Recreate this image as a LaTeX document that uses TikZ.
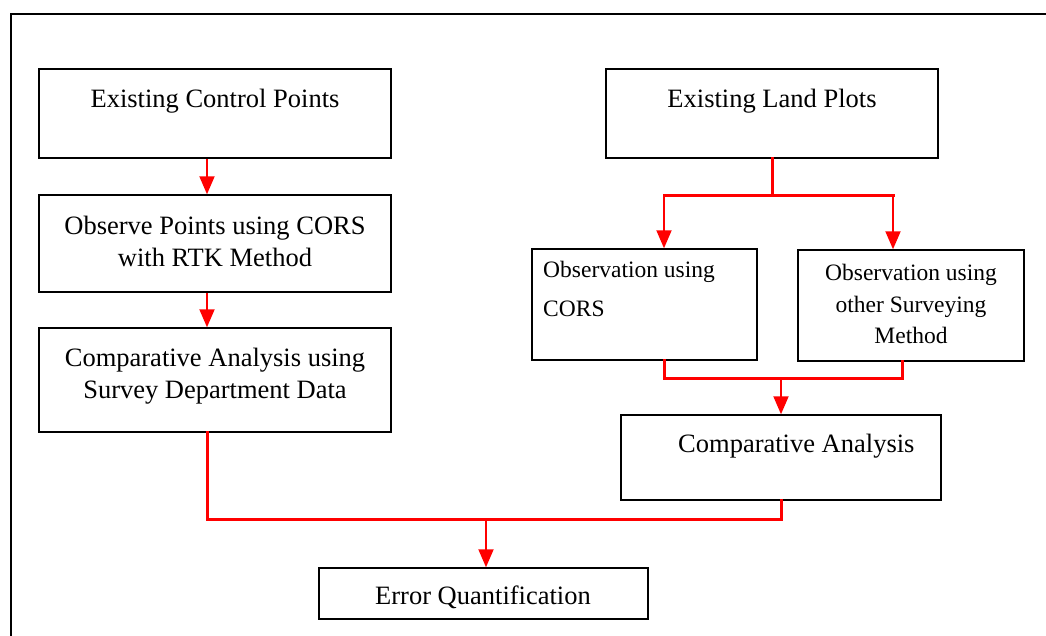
\documentclass[tikz,border=0pt]{standalone}
\usepackage{fontspec}
\setmainfont{Liberation Serif}
\usetikzlibrary{arrows.meta}
\begin{document}
\begin{tikzpicture}[x=1pt,y=-1pt,
  box/.style={draw=black,line width=1.5pt,inner sep=0pt,rectangle},
  big/.style={font=\fontsize{26.5}{32}\selectfont,inner sep=0pt,anchor=base},
  small/.style={font=\fontsize{23.5}{30}\selectfont,inner sep=0pt,anchor=base},
  bus/.style={draw=red,line width=3pt,line join=miter,line cap=rect},
  arr/.style={draw=red,line width=2pt,-{Triangle[width=15pt,length=18pt]}}]
\useasboundingbox (0,0) rectangle (1046,635);
\clip (0,0) rectangle (1046,635);
\draw[line width=1.5pt] (11,14) rectangle (1070,660);
% boxes
\node[box,minimum width=352pt,minimum height=89pt]  (b1) at (215,113.5) {};
\node[box,minimum width=352pt,minimum height=97pt]  (b2) at (215,243.5) {};
\node[box,minimum width=352pt,minimum height=104pt] (b3) at (215,380) {};
\node[box,minimum width=332pt,minimum height=89pt]  (b4) at (772,113.5) {};
\node[box,minimum width=225pt,minimum height=111pt] (b5) at (644.5,304.5) {};
\node[box,minimum width=226pt,minimum height=111pt] (b6) at (911,305.5) {};
\node[box,minimum width=320pt,minimum height=85pt]  (b7) at (781,457.5) {};
\node[box,minimum width=329pt,minimum height=51pt]  (b8) at (483.5,593.5) {};
% texts
\node[big] (t1) at (215,107) {Existing Control Points};
\node[big] (t2a) at (215,234) {Observe Points using CORS};
\node[big] (t2b) at (215,266) {with RTK Method};
\node[big] (t3a) at (215,366) {Comparative Analysis using};
\node[big] (t3b) at (215,398) {Survey Department Data};
\node[big] (t4) at (772,107) {Existing Land Plots};
\node[small,anchor=base west] (t5a) at (543,277) {Observation using};
\node[small,anchor=base west] (t5b) at (543,316) {CORS};
\node[small] (t6a) at (911,280) {Observation using};
\node[small] (t6b) at (911,312) {other Surveying};
\node[small] (t6c) at (911,343) {Method};
\node[big,anchor=base west] (t7) at (678,452) {Comparative Analysis};
\node[big,anchor=base west] (t8) at (375,604) {Error Quantification};
% left chain
\coordinate (cl) at (207,0);
\draw[arr] (b1.south -| cl) -- (b2.north -| cl);
\draw[arr] (b2.south -| cl) -- (b3.north -| cl);
% top split
\coordinate (s1) at (772,195);
\coordinate (sl) at (664,195);
\coordinate (sr) at (893,195);
\draw[bus] (b4.south -| s1) -- (s1);
\draw[bus] (sl) -- (sr);
\draw[arr] (sl) -- (b5.north -| sl);
\draw[arr] (sr) -- (b6.north -| sr);
% merge
\coordinate (m1) at (664,378);
\coordinate (m2) at (902,378);
\coordinate (mm) at (781,378);
\draw[bus] (b5.south -| m1) -- (m1) -- (m2) -- (b6.south -| m2);
\draw[arr] (mm) -- (b7.north -| mm);
% final
\coordinate (f1) at (207,519);
\coordinate (f2) at (781,519);
\coordinate (fm) at (486,519);
\draw[bus] (b3.south -| f1) -- (f1) -- (f2) -- (b7.south -| f2);
\draw[arr] (fm) -- (b8.north -| fm);
\end{tikzpicture}
\end{document}
